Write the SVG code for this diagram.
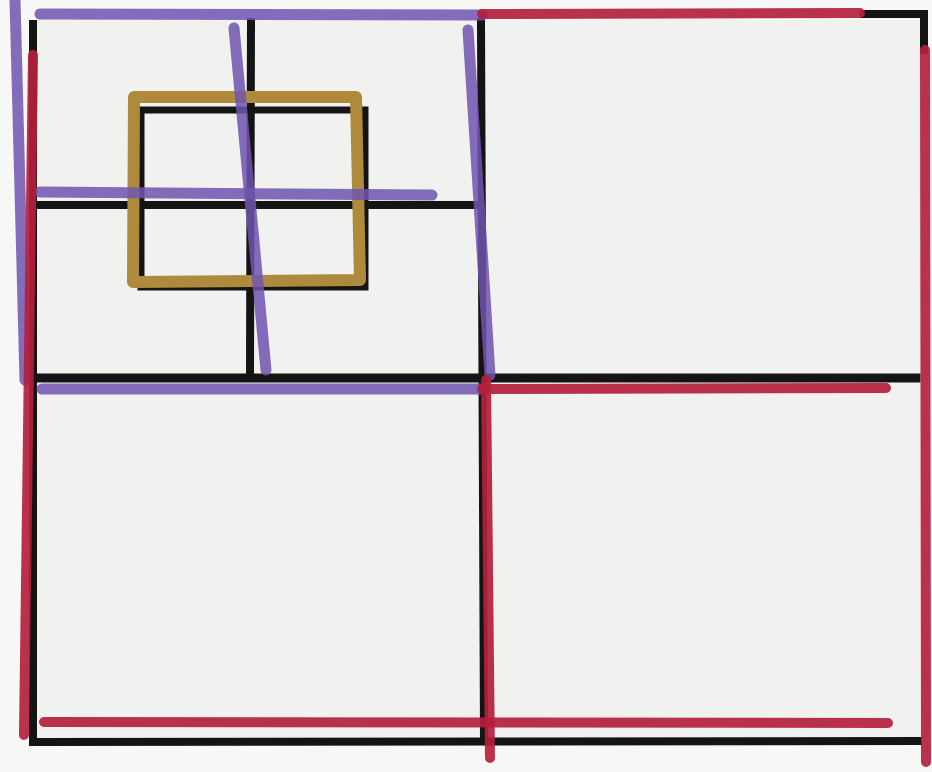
<svg xmlns="http://www.w3.org/2000/svg" width="932" height="772" viewBox="0 0 932 772">
<style>
.k{stroke:#141414;stroke-width:8;fill:none;stroke-linecap:square}
.r{stroke:#b3203c;stroke-width:10;fill:none;stroke-linecap:round;opacity:0.92}
.p{stroke:#6f55b0;stroke-width:11;fill:none;stroke-linecap:round;opacity:0.85}
.g{stroke:#b08a3c;stroke-width:12;fill:none;stroke-linejoin:round}
</style>
<rect x="0" y="0" width="932" height="772" fill="#f7f7f5"/>
<rect x="36" y="20" width="884" height="718" fill="#f1f2f0"/>
<g id="black-grid">
<path class="k" d="M33 24 L33 742 L918 741"/>
<path class="k" d="M864 14 L924 14 L924 50"/>
<line class="k" x1="481" y1="22" x2="484" y2="740"/>
<line class="k" x1="38" y1="378" x2="916" y2="378" style="stroke-width:9"/>
<line class="k" x1="251" y1="22" x2="250" y2="370"/>
<line class="k" x1="38" y1="205" x2="475" y2="205"/>
<rect class="k" x="141" y="110" width="224" height="177" style="stroke-width:7"/>
</g>
<g id="gold-square">
<path class="g" d="M134 97 L356 97 L360 280 L133 282 Z"/>
</g>
<g id="purple-lines">
<line class="p" x1="15" y1="0" x2="25" y2="380"/>
<line class="p" x1="40" y1="14" x2="482" y2="15"/>
<line class="p" x1="234" y1="28" x2="266" y2="370"/>
<line class="p" x1="40" y1="192" x2="432" y2="195"/>
<line class="p" x1="468" y1="30" x2="490" y2="375"/>
<line class="p" x1="42" y1="389" x2="480" y2="389"/>
</g>
<g id="red-lines">
<line class="r" x1="482" y1="14" x2="860" y2="13"/>
<line class="r" x1="33" y1="55" x2="24" y2="735"/>
<line class="r" x1="925" y1="50" x2="926" y2="762"/>
<line class="r" x1="482" y1="389" x2="886" y2="388"/>
<line class="r" x1="44" y1="722" x2="888" y2="723"/>
<line class="r" x1="486" y1="380" x2="490" y2="758"/>
</g>
</svg>
